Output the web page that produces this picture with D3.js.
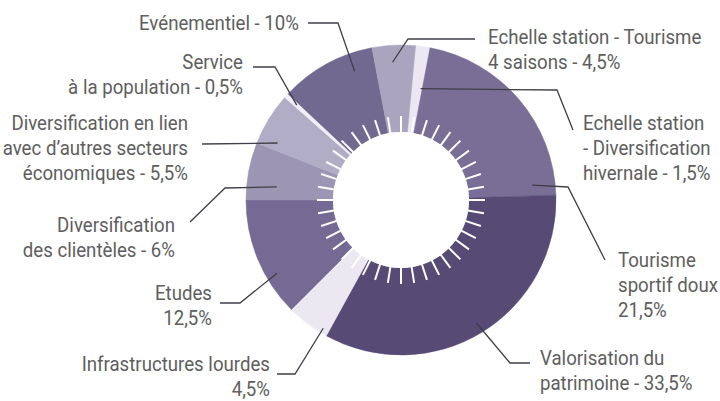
<!DOCTYPE html>
<html>
<head>
<meta charset="utf-8">
<script src="https://cdn.jsdelivr.net/npm/d3@7"></script>
<style>
  html, body { margin: 0; padding: 0; background: #fff; }
  svg { display: block; }
</style>
</head>
<body>
<div id="chart"></div>
<script>
// Slices, clockwise from just right of 12 o'clock
const categories = [
  "Echelle station - Diversification hivernale",
  "Tourisme sportif doux",
  "Valorisation du patrimoine",
  "Infrastructures lourdes",
  "Etudes",
  "Diversification des clientèles",
  "Diversification en lien avec d'autres secteurs économiques",
  "Service à la population",
  "Evénementiel",
  "Echelle station - Tourisme 4 saisons"
];
const values = [1.5, 21.5, 33.5, 4.5, 12.5, 6, 5.5, 0.5, 10, 4.5];
const sliceColors = [
  "#ebe8f1", "#786e96", "#574b75", "#ebe8f1", "#746a93",
  "#9c96b4", "#b2adc7", "#f1eff5", "#726990", "#aaa4bf"
];
const labelLines = [
  ["Echelle station", "- Diversification", "hivernale - 1,5%"],
  ["Tourisme", "sportif doux", "21,5%"],
  ["Valorisation du", "patrimoine - 33,5%"],
  ["Infrastructures lourdes", "4,5%"],
  ["Etudes", "12,5%"],
  ["Diversification", "des clientèles - 6%"],
  ["Diversification en lien", "avec d\u2019autres secteurs", "économiques - 5,5%"],
  ["Service", "à la population - 0,5%"],
  ["Evénementiel - 10%"],
  ["Echelle station - Tourisme", "4 saisons - 4,5%"]
];

const width = 720;
const height = 401;
const cx = 401, cy = 200;
const outerR = 155, innerR = 68;
const tickCount = 40;
const startOffset = 5.4 * Math.PI / 180;

// Label layout: where the leader starts inside the slice (t along the slice, radius),
// the bend points, and where the text sits
const labelLayout = [
  { t: 0.85, r: 113, pts: [[557, 90], [573, 130]], x: 583, y: 130, anchor: "start" },
  { t: 0.94, r: 132, pts: [[568, 187], [605, 260]], x: 618, y: 267, anchor: "start" },
  { t: 0.50, r: 144, pts: [[510, 363], [530, 363]], x: 540, y: 365, anchor: "start" },
  { t: 0.15, r: 150, pts: [[295, 374], [277, 374]], x: 270, y: 371, anchor: "end" },
  { t: 0.32, r: 144, pts: [[240, 303], [220, 303]], x: 212, y: 300, anchor: "end" },
  { t: 0.28, r: 125, pts: [[225, 188], [190, 222]], x: 175, y: 232, anchor: "end" },
  { t: 0.16, r: 136, pts: [[202, 144]], x: 188, y: 130, anchor: "end" },
  { t: 0.50, r: 141, pts: [[275, 67], [253, 67]], x: 243, y: 69, anchor: "end" },
  { t: 0.75, r: 137, pts: [[338, 23], [308, 23]], x: 299, y: 30, anchor: "end" },
  { t: 0.45, r: 138, pts: [[408, 39], [475, 39]], x: 488, y: 44, anchor: "start" }
];
const lineHeight = 25;
const fontSize = 21;
// the original uses a condensed face: squeeze a regular one to the width of
// "Evénementiel - 10%" as measured on the picture
const refWidth = 160;

const svg = d3.select("#chart")
  .append("svg")
  .attr("width", width)
  .attr("height", height);

const g = svg.append("g").attr("transform", `translate(${cx},${cy})`);

const pie = d3.pie()
  .sort(null)
  .value(d => d)
  .startAngle(startOffset)
  .endAngle(startOffset + 2 * Math.PI);

const arcs = pie(values);

const arc = d3.arc()
  .innerRadius(innerR)
  .outerRadius(outerR);

// Donut slices
g.selectAll("path.slice")
  .data(arcs)
  .enter()
  .append("path")
  .attr("class", "slice")
  .attr("d", arc)
  .attr("fill", (d, i) => sliceColors[i])
  .attr("stroke", (d, i) => sliceColors[i])
  .attr("stroke-width", 0.5);

// White tick ring around the hole
const tickAngle = d3.scaleLinear().domain([0, tickCount]).range([0, 2 * Math.PI]);
g.selectAll("line.tick")
  .data(d3.range(tickCount))
  .enter()
  .append("line")
  .attr("class", "tick")
  .attr("x1", d => d3.pointRadial(tickAngle(d), innerR - 2)[0])
  .attr("y1", d => d3.pointRadial(tickAngle(d), innerR - 2)[1])
  .attr("x2", d => d3.pointRadial(tickAngle(d), innerR + 16)[0])
  .attr("y2", d => d3.pointRadial(tickAngle(d), innerR + 16)[1])
  .attr("stroke", "#fff")
  .attr("stroke-width", 2);

g.append("circle")
  .attr("r", innerR)
  .attr("fill", "#fff");

// Leader lines
const line = d3.line();
svg.selectAll("path.leader")
  .data(arcs)
  .enter()
  .append("path")
  .attr("class", "leader")
  .attr("d", (d, i) => {
    const L = labelLayout[i];
    const a = d.startAngle + L.t * (d.endAngle - d.startAngle);
    const p = d3.pointRadial(a, L.r);
    return line([[cx + p[0], cy + p[1]]].concat(L.pts));
  })
  .attr("fill", "none")
  .attr("stroke", "#3f3f48")
  .attr("stroke-width", 1.3);

// Measure the squeeze factor
const fontFamily = "Roboto, 'Liberation Sans', sans-serif";
const probe = svg.append("text")
  .style("font-family", fontFamily)
  .style("font-size", fontSize + "px")
  .text(labelLines[8][0]);
const sx = refWidth / probe.node().getComputedTextLength();
probe.remove();

// Labels
const labels = svg.selectAll("text.label")
  .data(categories)
  .enter()
  .append("text")
  .attr("class", "label")
  .attr("transform", (d, i) => `translate(${labelLayout[i].x},${labelLayout[i].y}) scale(${sx},1)`)
  .attr("text-anchor", (d, i) => labelLayout[i].anchor)
  .style("font-family", fontFamily)
  .style("font-size", fontSize + "px")
  .style("fill", "#5e5e5e");

labels.each(function(d, i) {
  const t = d3.select(this);
  labelLines[i].forEach((s, k) => {
    t.append("tspan")
      .attr("x", 0)
      .attr("dy", k === 0 ? 0 : lineHeight)
      .text(s);
  });
});
</script>
</body>
</html>
